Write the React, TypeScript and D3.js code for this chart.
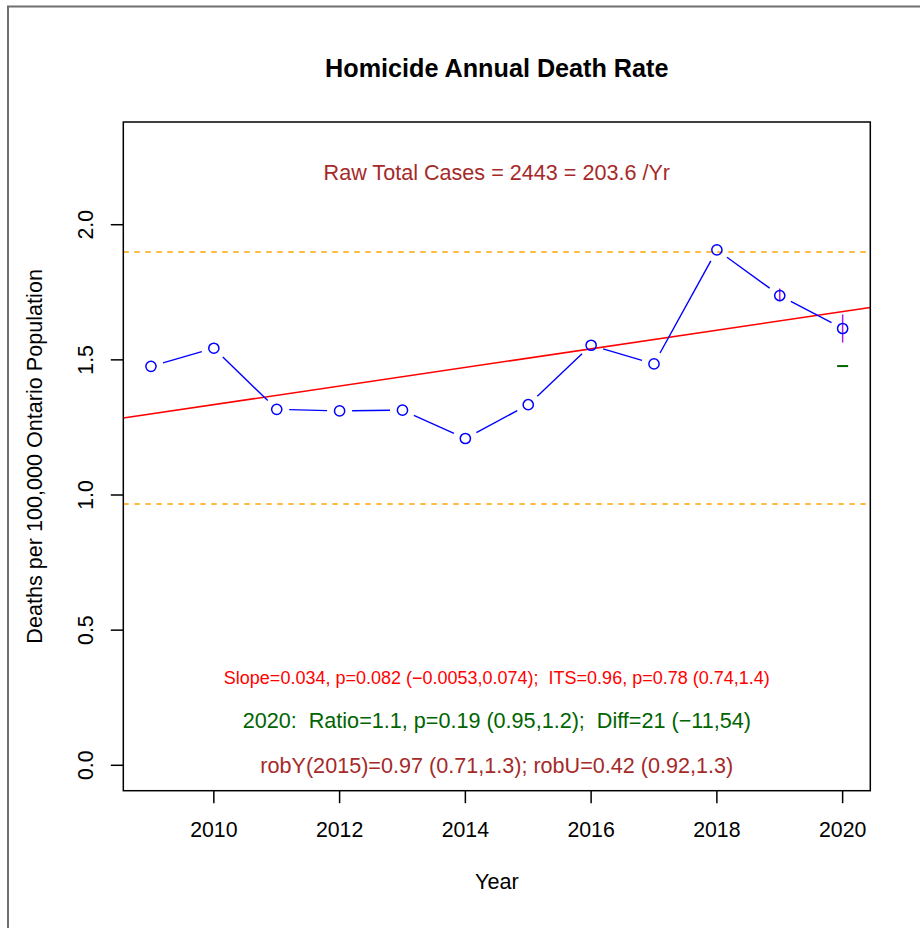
import React from "react";
import * as d3 from "d3";

const years = [2009, 2010, 2011, 2012, 2013, 2014, 2015, 2016, 2017, 2018, 2019, 2020];
const rates = [1.476, 1.543, 1.317, 1.311, 1.314, 1.209, 1.334, 1.554, 1.485, 1.907, 1.738, 1.616];
const errYears = [2019, 2020];
const errLow = [1.717, 1.564];
const errHigh = [1.764, 1.668];
const expectedYear = [2020];
const expectedValue = [1.477];
const trendIntercept2009 = 1.300;
const trendSlope = 0.0344;
const limitUpper = 1.899;
const limitLower = 0.967;
const xTicks = [2010, 2012, 2014, 2016, 2018, 2020];
const yTicks = [0, 0.5, 1.0, 1.5, 2.0];
const yTickLabels = ["0.0", "0.5", "1.0", "1.5", "2.0"];

const title = "Homicide Annual Death Rate";
const rawText = "Raw Total Cases = 2443 = 203.6 /Yr";
const slopeText = "Slope=0.034, p=0.082 (\u22120.0053,0.074);  ITS=0.96, p=0.78 (0.74,1.4)";
const ratioText = "2020:  Ratio=1.1, p=0.19 (0.95,1.2);  Diff=21 (\u221211,54)";
const robText = "robY(2015)=0.97 (0.71,1.3); robU=0.42 (0.92,1.3)";
const xLabel = "Year";
const yLabel = "Deaths per 100,000 Ontario Population";

const W = 920;
const H = 928;
const L = 123.3, R = 870.3, T = 122, B = 790.7;
const FONT = "'Liberation Sans', Arial, Helvetica, sans-serif";
const pre = { whiteSpace: "pre" } as React.CSSProperties;

export default function App() {
  const x = d3.scaleLinear().domain([2009 - 0.44, 2020 + 0.44]).range([L, R]);
  const y = d3.scaleLinear().domain([-0.094, 2.38]).range([B, T]);
  const cx = (L + R) / 2;

  const gap = 12.5;
  const segs: { x1: number; y1: number; x2: number; y2: number }[] = [];
  for (let i = 0; i < years.length - 1; i++) {
    const ax = x(years[i]), ay = y(rates[i]);
    const bx = x(years[i + 1]), by = y(rates[i + 1]);
    const dx = bx - ax, dy = by - ay;
    const len = Math.hypot(dx, dy);
    if (len <= 2 * gap) continue;
    const ux = dx / len, uy = dy / len;
    segs.push({ x1: ax + ux * gap, y1: ay + uy * gap, x2: bx - ux * gap, y2: by - uy * gap });
  }

  const trend = (yr: number) => trendIntercept2009 + trendSlope * (yr - 2009);
  const x0 = x.invert(L), x1 = x.invert(R);

  return (
    <svg width={W} height={H} style={{ position: "absolute", left: 0, top: 0, background: "#fff" }} fontFamily={FONT}>
      <rect x={0} y={0} width={W} height={H} fill="#fff" />
      <rect x={8} y={6.5} width={W + 20} height={H + 20} fill="none" stroke="#6e6e6e" strokeWidth={2} />

      <text x={cx} y={76.7} textAnchor="middle" fontSize={25.2} fontWeight="bold" fill="#000">{title}</text>

      <defs>
        <clipPath id="plotclip"><rect x={L} y={T} width={R - L} height={B - T} /></clipPath>
      </defs>

      <g clipPath="url(#plotclip)">
        <line x1={L} x2={R} y1={y(limitUpper)} y2={y(limitUpper)} stroke="#FFA500" strokeWidth={1.5} strokeDasharray="5.5,5.5" />
        <line x1={L} x2={R} y1={y(limitLower)} y2={y(limitLower)} stroke="#FFA500" strokeWidth={1.5} strokeDasharray="5.5,5.5" />
        <line x1={x(x0)} x2={x(x1)} y1={y(trend(x0))} y2={y(trend(x1))} stroke="#FF0000" strokeWidth={1.5} />
      </g>

      {segs.map((s, i) => (
        <line key={"s" + i} x1={s.x1} y1={s.y1} x2={s.x2} y2={s.y2} stroke="#0000FF" strokeWidth={1.4} />
      ))}
      {errYears.map((yr, i) => (
        <line key={"e" + i} x1={x(yr)} x2={x(yr)} y1={y(errLow[i])} y2={y(errHigh[i])} stroke="#A020F0" strokeWidth={1.5} />
      ))}
      {years.map((yr, i) => (
        <circle key={"c" + i} cx={x(yr)} cy={y(rates[i])} r={5.1} fill="none" stroke="#0000FF" strokeWidth={1.5} />
      ))}
      {expectedYear.map((yr, i) => (
        <line key={"g" + i} x1={x(yr) - 5.5} x2={x(yr) + 5.5} y1={y(expectedValue[i])} y2={y(expectedValue[i])} stroke="#006400" strokeWidth={2} />
      ))}

      <text x={cx} y={180} textAnchor="middle" fontSize={21.6} fill="#A52A2A" style={pre}>{rawText}</text>
      <text x={cx} y={684} textAnchor="middle" fontSize={18} fill="#FF0000" style={pre}>{slopeText}</text>
      <text x={cx} y={728} textAnchor="middle" fontSize={21.6} fill="#006400" style={pre}>{ratioText}</text>
      <text x={cx} y={772.7} textAnchor="middle" fontSize={21.6} fill="#A52A2A" style={pre}>{robText}</text>

      <rect x={L} y={T} width={R - L} height={B - T} fill="none" stroke="#000" strokeWidth={1.5} />

      {xTicks.map((t) => (
        <g key={"xt" + t}>
          <line x1={x(t)} x2={x(t)} y1={B} y2={B + 12.5} stroke="#000" strokeWidth={1.5} />
          <text x={x(t)} y={837.3} textAnchor="middle" fontSize={21.3} fill="#000">{String(t)}</text>
        </g>
      ))}
      {yTicks.map((t, i) => (
        <g key={"yt" + i}>
          <line x1={L} x2={L - 12.5} y1={y(t)} y2={y(t)} stroke="#000" strokeWidth={1.5} />
          <text transform={`translate(93.3,${y(t)}) rotate(-90)`} textAnchor="middle" fontSize={21.3} fill="#000">{yTickLabels[i]}</text>
        </g>
      ))}

      <text x={cx} y={889} textAnchor="middle" fontSize={21.6} fill="#000">{xLabel}</text>
      <text transform={`translate(41.5,${(T + B) / 2}) rotate(-90)`} textAnchor="middle" fontSize={21.6} fill="#000">{yLabel}</text>
    </svg>
  );
}
